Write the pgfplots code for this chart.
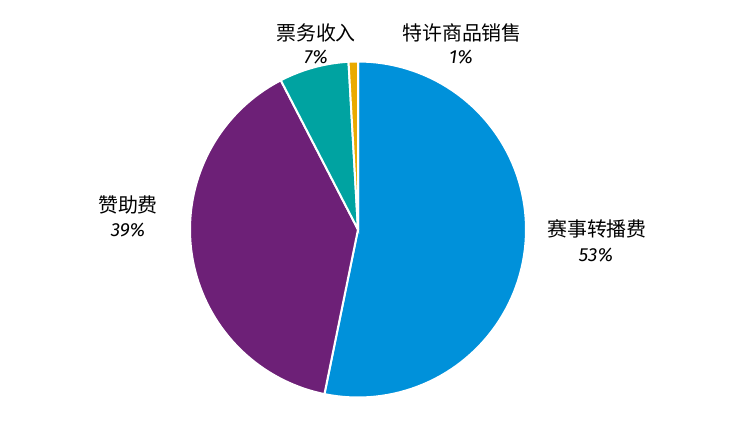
\documentclass[border=0pt]{standalone}
\usepackage{pgfplots}
\pgfplotsset{compat=1.18}
\usepackage{pgfplotstable}
\usepackage{fontspec}
\setmainfont{Fira Sans}
\newfontfamily\cjk{Noto Sans CJK SC}
\definecolor{cBlue}{HTML}{0091DA}
\definecolor{cPurple}{HTML}{6D2077}
\definecolor{cTeal}{HTML}{00A3A1}
\definecolor{cOrange}{HTML}{EAAA00}
% share (%) of each slice, clockwise from 12 o'clock
\pgfplotstableread{
name share
broadcast 53.2
sponsor 39.2
ticket 6.7
merch 0.9
}\piedata
\pgfplotstablegetelem{0}{share}\of\piedata \let\sA\pgfplotsretval
\pgfplotstablegetelem{1}{share}\of\piedata \let\sB\pgfplotsretval
\pgfplotstablegetelem{2}{share}\of\piedata \let\sC\pgfplotsretval
\pgfplotstablegetelem{3}{share}\of\piedata \let\sD\pgfplotsretval
\pgfmathsetmacro\aA{90}
\pgfmathsetmacro\aB{\aA-3.6*\sA}
\pgfmathsetmacro\aC{\aB-3.6*\sB}
\pgfmathsetmacro\aD{\aC-3.6*\sC}
\pgfmathsetmacro\aE{\aD-3.6*\sD}
\def\cx{358}
\def\cy{196.5}
\def\R{168}
\begin{document}
\begin{tikzpicture}
\begin{axis}[
  x=1bp, y=1bp,
  xmin=0, xmax=737, ymin=0, ymax=426,
  hide axis,
  scale only axis,
  clip=false,
  samples=90,
]
\path (axis cs:0,0) rectangle (axis cs:737,426);
\addplot[fill=cBlue, draw=white, line width=2bp, domain=\aB:\aA] ({\cx+\R*cos(x)},{\cy+\R*sin(x)}) -- (axis cs:\cx,\cy) -- cycle;
\addplot[fill=cPurple, draw=white, line width=2bp, domain=\aC:\aB] ({\cx+\R*cos(x)},{\cy+\R*sin(x)}) -- (axis cs:\cx,\cy) -- cycle;
\addplot[fill=cTeal, draw=white, line width=2bp, domain=\aD:\aC, samples=30] ({\cx+\R*cos(x)},{\cy+\R*sin(x)}) -- (axis cs:\cx,\cy) -- cycle;
\addplot[fill=cOrange, draw=white, line width=2bp, domain=\aE:\aD, samples=10] ({\cx+\R*cos(x)},{\cy+\R*sin(x)}) -- (axis cs:\cx,\cy) -- cycle;

\node[font=\cjk\fontsize{20}{22}\selectfont] at (axis cs:597,197) {赛事转播费};
\node[font=\itshape\fontsize{19}{21}\selectfont] at (axis cs:596,171) {53\%};
\node[font=\cjk\fontsize{20}{22}\selectfont] at (axis cs:128,221) {赞助费};
\node[font=\itshape\fontsize{19}{21}\selectfont] at (axis cs:128,196) {39\%};
\node[font=\cjk\fontsize{20}{22}\selectfont] at (axis cs:316,393) {票务收入};
\node[font=\itshape\fontsize{19}{21}\selectfont] at (axis cs:316,369) {7\%};
\node[font=\cjk\fontsize{20}{22}\selectfont] at (axis cs:462,393) {特许商品销售};
\node[font=\itshape\fontsize{19}{21}\selectfont] at (axis cs:461,369) {1\%};
\end{axis}
\end{tikzpicture}
\end{document}
